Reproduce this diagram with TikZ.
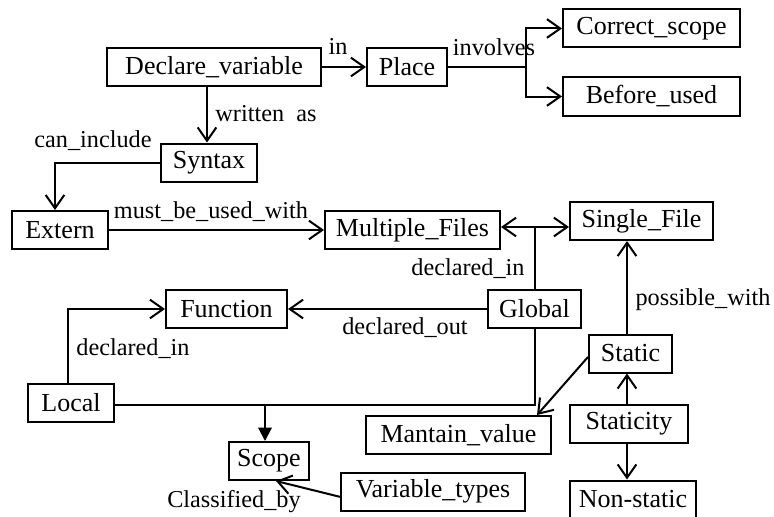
\documentclass[tikz,border=0pt]{standalone}
\usepackage{fontspec}
\setmainfont{Liberation Serif}
\usetikzlibrary{arrows.meta}

\begin{document}
\begin{tikzpicture}[
  x=0.75pt,
  y=-0.75pt,
  line width=1.5pt,
  every node/.style={
    font=\fontsize{19.5}{22}\selectfont
  },
  box/.style={
    draw,
    rectangle,
    inner sep=0pt,
    minimum height=28.5pt,
    minimum width=#1*0.75pt
  },
  lbl/.style={
    inner sep=0pt,
    font=\fontsize{18.2}{21}\selectfont
  },
  link/.style={
    -{Straight Barb[length=10pt,width=14pt]}
  },
  link_filled/.style={
    -{Triangle[length=10pt,width=10pt]}
  }
]%
\useasboundingbox (0,0) rectangle (774,517);
% concepts
\node [box=214] (decl)      at (214,67)    {Declare\_variable};
\node [box=80]  (place)     at (407,67)    {Place};
\node [box=177] (correct)   at (651.5,28.5) {Correct\_scope};
\node [box=177] (before)    at (651.5,96.5) {Before\_used};
\node [box=96]  (syntax)    at (209,162.5) {Syntax};
\node [box=96]  (extern)    at (60,230)    {Extern};
\node [box=175] (multi)     at (412.5,230) {Multiple\_Files};
\node [box=143] (single)    at (641.5,221) {Single\_File};
\node [box=121] (function)  at (226.5,309) {Function};
\node [box=93]  (global)    at (534.5,309) {Global};
\node [box=86]  (local)     at (71,402.5)  {Local};
\node [box=83]  (static)    at (630.5,353.5) {Static};
\node [box=185] (mantain)   at (458.5,435) {Mantain\_value};
\node [box=118] (staticity) at (629,424)   {Staticity};
\node [box=80]  (scope)     at (269,461)   {Scope};
\node [box=184] (vartypes)  at (433,491.5) {Variable\_types};
\node [box=126] (nonstatic) at (633,499.5) {Non-static};
% links
\coordinate (fork)  at (526,67);
\coordinate (gjoin) at (534.5,227);
\coordinate (ljoin) at (534.5,405);
\draw [link] (decl) -- (place);
\draw (place) -- (fork);
\draw [link] (fork) |- (correct);
\draw [link] (fork) |- (before);
\draw [link] ([xshift=-5.25pt]decl.south) -- ([xshift=-1.5pt]syntax.north);
\draw [link] (syntax.west) -| ([xshift=-3.75pt]extern.north);
\draw [link] (extern) -- (multi);
\draw (global.north) -- (gjoin);
\draw [link] (gjoin) -- (gjoin -| multi.east);
\draw [link] (gjoin) -- (gjoin -| single.west);
\draw [link] (global) -- (function);
\draw [link] ([xshift=-2.25pt]local.north) |- (function.west);
\draw (local.east |- ljoin) -- (ljoin) -- (global.south);
\draw [link_filled] ([xshift=-3pt]scope.north |- ljoin) -- ([xshift=-3pt]scope.north);
\draw [link] ([yshift=-4pt]vartypes.west) -- ([xshift=5.25pt]scope.south);
\draw [link] ([yshift=-2.6pt]static.west) -- ([xshift=58.9pt]mantain.north);
\draw [link] ([xshift=-2.6pt]static.north) -- ([xshift=-2.6pt]static.north |- single.south);
\draw [link] ([xshift=-1.5pt]staticity.north) -- ([xshift=-1.5pt]staticity.north |- static.south);
\draw [link] ([xshift=-1.5pt]staticity.south) -- ([xshift=-1.5pt]staticity.south |- nonstatic.north);
% link labels
\node [lbl] (l_in)       at (338,46)  {in};
\node [lbl] (l_involves) at (494,47)  {involves};
\node [lbl] (l_written)  at (266,114) {written~ as};
\node [lbl] (l_include)  at (93,141)  {can\_include};
\node [lbl] (l_must)     at (211,212) {must\_be\_used\_with};
\node [lbl] (l_gdecl)    at (468,269) {declared\_in};
\node [lbl] (l_out)      at (405,328) {declared\_out};
\node [lbl] (l_ldecl)    at (133,349) {declared\_in};
\node [lbl] (l_possible) at (703,300) {possible\_with};
\node [lbl] (l_class)    at (234,502) {Classified\_by};
\end{tikzpicture}
\end{document}
